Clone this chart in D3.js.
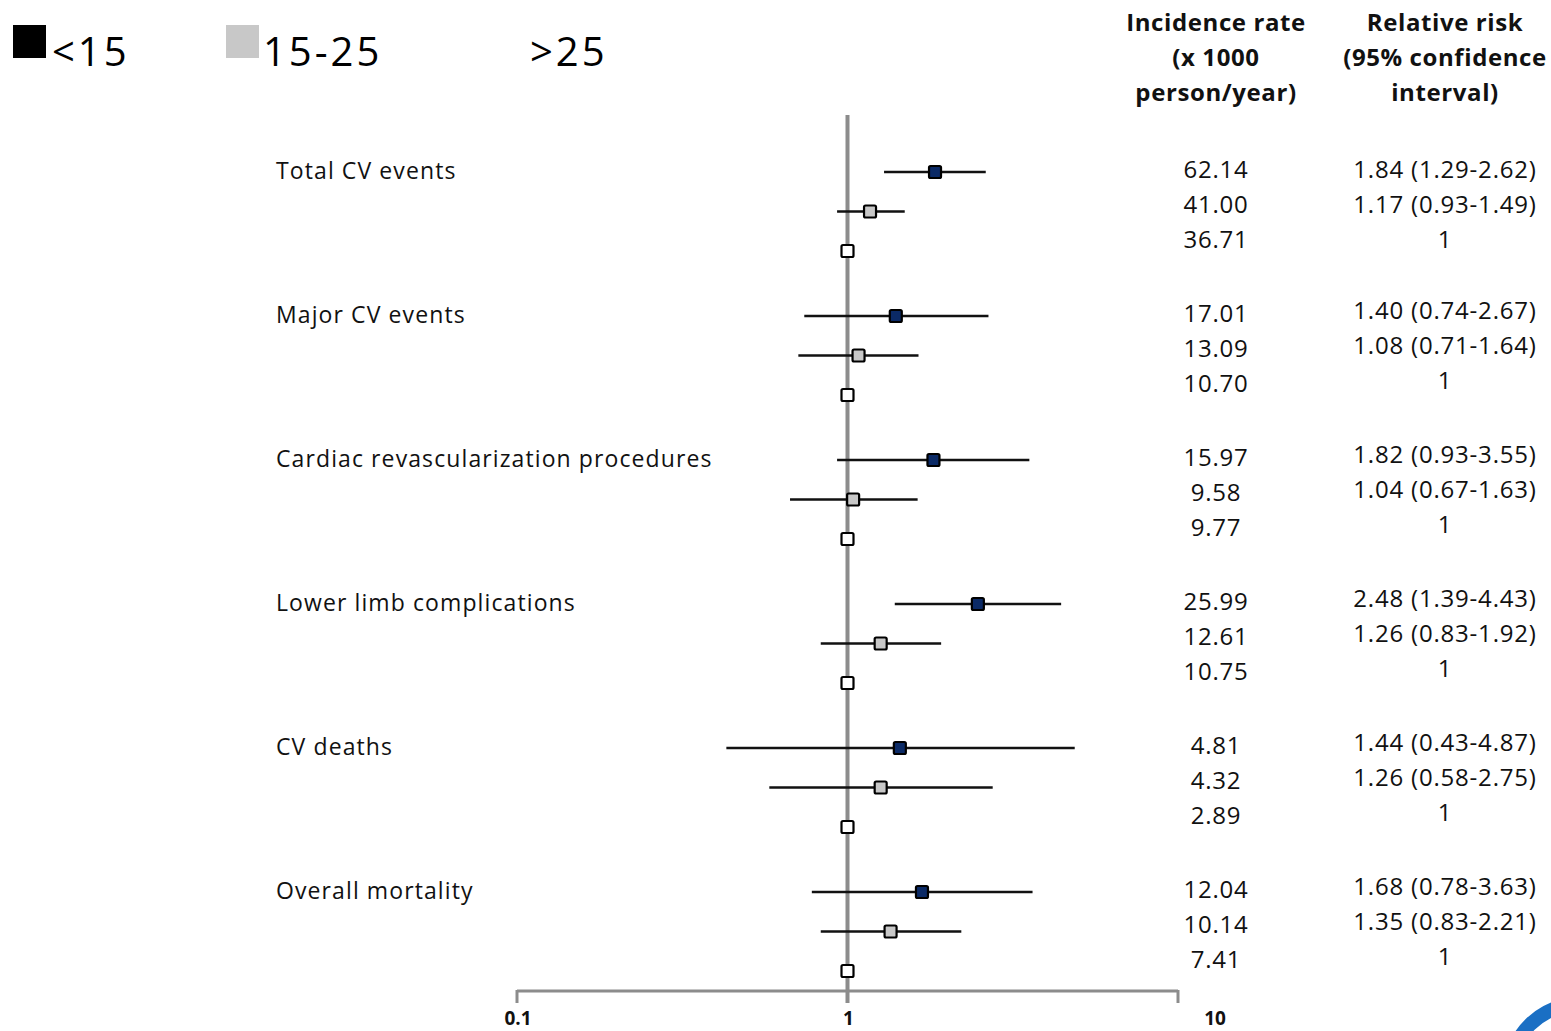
<!DOCTYPE html>
<html>
<head>
<meta charset="utf-8">
<script src="https://cdn.jsdelivr.net/npm/d3@7"></script>
<style>
  html, body { margin: 0; padding: 0; background: #fff; }
  svg { display: block; font-family: "Open Sans", "Noto Sans", sans-serif; }
</style>
</head>
<body>
<svg id="chart" width="1551" height="1031"></svg>
<script>
// Outcome categories (one block of three rows each)
const categories = [
  "Total CV events",
  "Major CV events",
  "Cardiac revascularization procedures",
  "Lower limb complications",
  "CV deaths",
  "Overall mortality"
];
const groups = ["<15", "15-25", ">25"];

// Incidence rate (x 1000 person/year) per group
const incLt15 = [62.14, 17.01, 15.97, 25.99, 4.81, 12.04];
const inc15to25 = [41.00, 13.09, 9.58, 12.61, 4.32, 10.14];
const incGt25 = [36.71, 10.70, 9.77, 10.75, 2.89, 7.41];

// Relative risk and 95% CI; >25 is the reference group (RR = 1)
const rrLt15 = [1.84, 1.40, 1.82, 2.48, 1.44, 1.68];
const loLt15 = [1.29, 0.74, 0.93, 1.39, 0.43, 0.78];
const hiLt15 = [2.62, 2.67, 3.55, 4.43, 4.87, 3.63];
const rr15to25 = [1.17, 1.08, 1.04, 1.26, 1.26, 1.35];
const lo15to25 = [0.93, 0.71, 0.67, 0.83, 0.58, 0.83];
const hi15to25 = [1.49, 1.64, 1.63, 1.92, 2.75, 2.21];
const rrGt25 = [1, 1, 1, 1, 1, 1];

const axisTicks = [0.1, 1, 10];
const tickLabels = ["0.1", "1", "10"];

const groupFill = ["#0b2a66", "#c8c8c8", "#ffffff"];
const legendFill = ["#000000", "#c8c8c8", "none"];

const svg = d3.select("#chart");

const x = d3.scaleLog().domain([0.1, 10]).range([517, 1178]);
const yCat = d3.scalePoint().domain(categories).range([172, 892]);
const yRow = d3.scalePoint().domain(groups).range([0, 79]);
const incRowOffset = [-2, 33, 68];
const rrRowOffset = [-5, 30, 65];

// Build one record per marker row
const rows = [];
categories.forEach((c, i) => {
  rows.push({ cat: c, g: 0, rr: rrLt15[i], lo: loLt15[i], hi: hiLt15[i], inc: incLt15[i] });
  rows.push({ cat: c, g: 1, rr: rr15to25[i], lo: lo15to25[i], hi: hi15to25[i], inc: inc15to25[i] });
  rows.push({ cat: c, g: 2, rr: rrGt25[i], lo: null, hi: null, inc: incGt25[i] });
});
const rowY = d => yCat(d.cat) + yRow(groups[d.g]);

// Legend
const legend = svg.append("g");
const legendX = [13, 226, 495];
const legendTextX = [52, 263, 530];
groups.forEach((g, i) => {
  if (legendFill[i] !== "none") {
    legend.append("rect").attr("x", legendX[i]).attr("y", 25)
      .attr("width", 33).attr("height", 33).attr("fill", legendFill[i]);
  }
  legend.append("text").attr("x", legendTextX[i]).attr("y", 66)
    .attr("font-size", 40).attr("letter-spacing", 3).attr("fill", "#000").text(g);
});

// Column headers
const headInc = ["Incidence rate", "(x 1000", "person/year)"];
const headRR = ["Relative risk", "(95% confidence", "interval)"];
[[headInc, 1216], [headRR, 1445]].forEach(([lines, cx]) => {
  lines.forEach((t, i) => {
    svg.append("text").attr("x", cx).attr("y", 31 + i * 35)
      .attr("text-anchor", "middle").attr("font-size", 24)
      .attr("letter-spacing", 0.6)
      .attr("font-weight", "bold").attr("fill", "#111").text(t);
  });
});

// Reference line at RR = 1
svg.append("line")
  .attr("x1", x(1)).attr("x2", x(1)).attr("y1", 115).attr("y2", 1003)
  .attr("stroke", "#8c8c8c").attr("stroke-width", 4);

// Bottom axis
svg.append("line")
  .attr("x1", x(0.1)).attr("x2", x(10)).attr("y1", 991).attr("y2", 991)
  .attr("stroke", "#8c8c8c").attr("stroke-width", 3);
svg.selectAll(".tick").data(axisTicks).enter().append("line")
  .attr("x1", d => x(d)).attr("x2", d => x(d))
  .attr("y1", 990).attr("y2", 1003)
  .attr("stroke", "#8c8c8c").attr("stroke-width", 3);
svg.selectAll(".ticklabel").data(axisTicks).enter().append("text")
  .attr("x", d => x(d)).attr("dx", (d, i) => i === axisTicks.length - 1 ? 37 : 1)
  .attr("y", 1025).attr("text-anchor", "middle")
  .attr("font-size", 19).attr("font-weight", "bold").attr("fill", "#111")
  .text((d, i) => tickLabels[i]);

// Category labels
svg.selectAll(".cat").data(categories).enter().append("text")
  .attr("x", 276).attr("y", d => yCat(d) + 7)
  .attr("font-size", 23).attr("letter-spacing", 1.1).attr("fill", "#111").text(d => d);

// Confidence interval whiskers
svg.selectAll(".ci").data(rows.filter(d => d.lo !== null)).enter().append("line")
  .attr("x1", d => x(d.lo)).attr("x2", d => x(d.hi))
  .attr("y1", rowY).attr("y2", rowY)
  .attr("stroke", "#111").attr("stroke-width", 2.5);

// Point estimate markers
svg.selectAll(".pt").data(rows).enter().append("rect")
  .attr("x", d => x(d.rr) - 6).attr("y", d => rowY(d) - 6)
  .attr("width", 12).attr("height", 12).attr("rx", 1.5)
  .attr("fill", d => groupFill[d.g]).attr("stroke", "#000").attr("stroke-width", 2.2);

// Incidence column
svg.selectAll(".inc").data(rows).enter().append("text")
  .attr("x", 1216).attr("y", d => yCat(d.cat) + incRowOffset[d.g] + 8)
  .attr("text-anchor", "middle").attr("font-size", 24).attr("letter-spacing", 0.8)
  .attr("fill", "#111")
  .text(d => d.inc.toFixed(2));

// Relative risk column
const fmt = d3.format(".2f");
svg.selectAll(".rr").data(rows).enter().append("text")
  .attr("x", 1445).attr("y", d => yCat(d.cat) + (d.cat === categories[0] ? incRowOffset[d.g] : rrRowOffset[d.g]) + 8)
  .attr("text-anchor", "middle").attr("font-size", 24).attr("letter-spacing", 0.8)
  .attr("fill", "#111")
  .text(d => d.lo === null ? "1" : `${fmt(d.rr)} (${fmt(d.lo)}-${fmt(d.hi)})`);

// Corner logo (partially outside the page)
const logo = svg.append("g").attr("transform", "translate(1580,1075)");
logo.append("path")
  .attr("d", d3.arc().innerRadius(64).outerRadius(78).startAngle(-1.35).endAngle(-0.2)())
  .attr("fill", "#1a6fc4");
logo.append("path")
  .attr("d", d3.arc().innerRadius(34).outerRadius(46).startAngle(-1.2).endAngle(-0.3)())
  .attr("fill", "#1a6fc4");
</script>
</body>
</html>
